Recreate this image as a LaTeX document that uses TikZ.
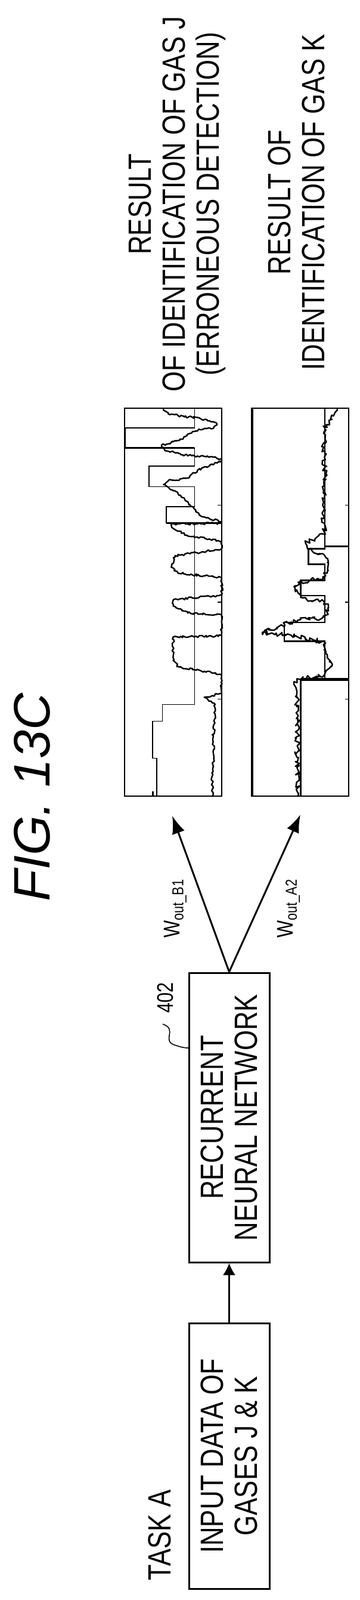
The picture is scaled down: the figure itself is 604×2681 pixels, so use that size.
\documentclass[tikz,border=0pt]{standalone}
\usepackage{fontspec}
\setmainfont{Liberation Sans}[FakeStretch=0.81]
\newfontfamily\figfont{Liberation Sans}
\usetikzlibrary{positioning,arrows.meta,decorations.pathmorphing}

\begin{document}
\begin{tikzpicture}[x=0.5pt,y=-0.5pt,line width=1pt,
    box/.style={draw,line width=1.5pt,rotate=90,align=center,inner sep=0pt,
      font=\fontsize{27}{28.5}\selectfont},
    chart/.style={draw,rotate=90,inner sep=0pt,minimum width=325pt},
    lbl/.style={rotate=90,align=center,font=\fontsize{27}{28.5}\selectfont},
    small/.style={rotate=90,font=\fontsize{19}{20}\selectfont},
    noisy/.style={line width=1.2pt,line join=round,decorate,
      decoration={random steps,segment length=1.5pt,amplitude=#1}},
    tick/.style={line width=0.8pt}]
	\useasboundingbox (0,0) rectangle (604,2681);

		% title
		\node[rotate=90,font=\figfont\itshape\fontsize{43}{45}\selectfont] (title) at (54,1336) {FIG. 13C};

		% task A: input and network
		\node[lbl] (task) at (268,2572) {TASK A};
		\node[box,minimum width=222.5pt,minimum height=67.5pt] (inp) at (384.5,2439.5) {INPUT DATA OF\\GASES J \& K};
		\node[box,minimum width=242.5pt,minimum height=67.5pt] (rnn) at (384.5,1872.5) {RECURRENT\\NEURAL NETWORK};
		\draw[-{Latex[length=10pt,width=10.5pt]},line width=1.2pt] (inp.east) -- (rnn.west);

		% the reference sign
		\node[small] (ref) at (277,1672) {402};
		\draw[line width=0.8pt] (273,1716) .. controls (300,1725) and (268,1745) .. (296,1752) .. controls (305,1755) and (310,1756) .. (317,1756);

		% the two results
		\node[chart,minimum height=81.5pt] (c1) at (290.5,1009) {};
		\node[chart,minimum height=80.5pt,line width=1pt] (c2) at (504.5,1009) {};
		\draw[line width=2pt] (c2.north west) -- (c2.north east);
		\coordinate (ta) at (289,1367);
		\coordinate (tb) at (504,1365);
		\draw[-{Latex[length=15pt,width=11pt]},line width=1.5pt] (rnn.east) -- (ta);
		\draw[-{Latex[length=15pt,width=11pt]},line width=1.5pt] (rnn.east) -- (tb);
		\node[small] (wb) at (294,1522) {W\textsubscript{out\_B1}};
		\node[small] (wa) at (484,1522) {W\textsubscript{out\_A2}};

		\node[lbl] (resj) at (297.5,342) {RESULT\\OF IDENTIFICATION OF GAS J\\(ERRONEOUS DETECTION)};
		\node[lbl] (resk) at (497.5,339) {RESULT OF\\IDENTIFICATION OF GAS K};

		% curves of gas J
		\begin{scope}[shift={(372,1334)},x={(0pt,3.25pt)},y={(-0.815pt,0pt)}]
			\draw[line width=0.8pt] (0,67) -- (9.8,67) -- (9.8,71) -- (19.3,71) -- (19.3,61) -- (23.6,61) -- (23.6,28)
			  -- (70.4,28) -- (70.4,57) -- (74.6,57) -- (74.6,28) -- (79.8,28) -- (79.8,75) -- (85.1,75) -- (85.1,28)
			  -- (89.7,28) -- (89.7,99) -- (94.9,99) -- (94.9,28) -- (100,28);
			\draw[line width=1.5pt] (70.4,0) -- (70.4,57);
			\draw[line width=1.5pt] (89.7,28) -- (89.7,99);
			\draw[line width=1.5pt] (0,71) -- (1.2,71);
			\draw[noisy=1pt] (0,9) -- (5,10) -- (10,8) -- (15,9) -- (20,7) -- (24,8) -- (25.5,18) -- (26.5,0);
			\draw[noisy=1pt] (26.5,0) -- (31.4,0) -- (33.4,45) -- (35,50) -- (41,50) -- (41.4,0) -- (46.8,0) -- (47.2,35)
			  -- (49,50) -- (50.5,50) -- (51.5,20) -- (51.7,0) -- (56.3,0) -- (57.5,45) -- (59,52) -- (62,48) -- (63,20)
			  -- (63.8,0) -- (65.8,0) -- (67.3,36) -- (69,50) -- (70,52) -- (70.4,0) -- (70.7,0) -- (72,20) -- (74,28)
			  -- (76,36) -- (78,45) -- (79.6,55) -- (80.3,60) -- (81.3,55) -- (82,35) -- (84,25) -- (85.6,10) -- (86.5,0)
			  -- (87,0) -- (88,40) -- (89,57) -- (90.5,62) -- (92,40) -- (94,30) -- (95,8) -- (96,5) -- (97,15)
			  -- (98.5,55) -- (99.5,60) -- (100,60);
			\foreach \t in {25,50,75}
				\draw[tick] (\t,0) -- (\t,4);
		\end{scope}

		% curves of gas K
		\begin{scope}[shift={(585,1334)},x={(0pt,3.25pt)},y={(-0.805pt,0pt)}]
			\draw[line width=1.2pt] (0,50) -- (30.1,50) -- (30.1,25) -- (39.9,25) -- (39.9,67) -- (44.8,67) -- (44.8,25)
			  -- (51.7,25) -- (51.7,50) -- (55.6,50) -- (55.6,25) -- (59.8,25) -- (59.8,42) -- (63.8,42) -- (63.8,25) -- (100,25);
			\draw[line width=2.2pt] (30.1,50) -- (30.1,0);
			\draw[line width=1.5pt] (64.4,25) -- (64.4,0);
			\draw[noisy=2pt] (0,53) -- (10,54) -- (20,53) -- (28,55) -- (29.5,57) -- (30.1,50) -- (31.4,25) -- (33,20)
			  -- (34,17) -- (36,22) -- (39.5,25) -- (40.2,35) -- (41.5,60) -- (42.2,90) -- (43.5,75) -- (44.9,60) -- (45.5,50)
			  -- (46,25) -- (48.5,21) -- (50,25) -- (51.2,50) -- (54,57) -- (55.4,50) -- (56,25) -- (60.5,21) -- (62,25)
			  -- (63.6,42) -- (65.3,45) -- (66.3,35) -- (67.5,25) -- (75,27) -- (80,25) -- (85,25) -- (90,26) -- (95,25)
			  -- (99,14) -- (100,12);
			\foreach \t in {25,50,75}
				\draw[tick] (\t,0) -- (\t,4);
		\end{scope}

	\end{tikzpicture}
\end{document}
